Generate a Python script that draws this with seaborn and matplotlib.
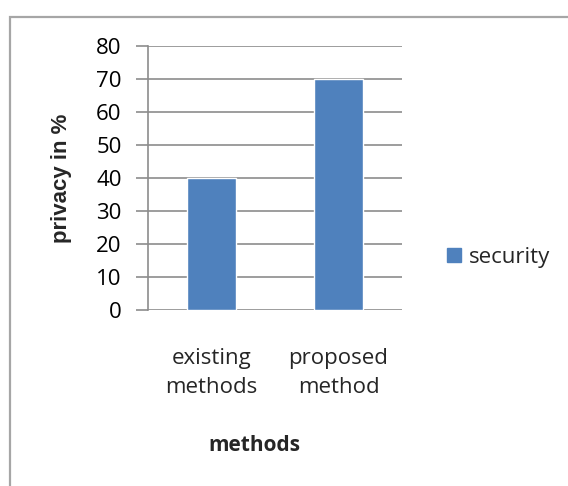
import matplotlib
matplotlib.use("Agg")
import matplotlib.pyplot as plt
from matplotlib.patches import Rectangle
import seaborn as sns
import pandas as pd

categories = ["existing\nmethods", "proposed\nmethod"]
security = [40, 70]
yticks = [0, 10, 20, 30, 40, 50, 60, 70, 80]
series_name = "security"

sns.set_style("white")
plt.rcParams["font.family"] = ["Open Sans", "DejaVu Sans"]

df = pd.DataFrame({"method": categories, "value": security, "series": series_name})

fig = plt.figure(figsize=(5.68, 4.86), dpi=100)
ax = fig.add_axes([148 / 568, 1 - 310 / 486, 254 / 568, 264 / 486])

bar_color = "#4F81BD"
sns.barplot(data=df, x="method", y="value", hue="series", palette=[bar_color],
            width=0.385, ax=ax, legend=False, saturation=1)

ax.set_xlim(-0.5, 1.5)
ax.set_ylim(0, 80)
ax.set_yticks(yticks)
ax.set_yticklabels([str(t) for t in yticks], fontsize=16)
ax.yaxis.grid(True, color="#8c8c8c", linewidth=1.2)
ax.set_axisbelow(True)
for side in ["top", "right", "bottom"]:
    ax.spines[side].set_visible(False)
ax.spines["left"].set_color("#8c8c8c")
ax.spines["left"].set_linewidth(1.2)
ax.tick_params(axis="y", which="major", left=True, length=9, width=1.2,
               color="#8c8c8c", pad=10, labelcolor="black")
ax.tick_params(axis="x", bottom=False, pad=24, labelsize=16)
for lbl in ax.get_xticklabels():
    lbl.set_linespacing(1.5)

ax.set_xlabel("methods", fontsize=15, fontweight="bold")
ax.xaxis.set_label_coords((254 - 148) / 254, -0.475)
ax.set_ylabel("privacy in %", fontsize=16, fontweight="bold",
              family=["Liberation Sans", "DejaVu Sans"])
ax.yaxis.set_label_coords(-0.30, 0.5)

# legend
ax.legend(handles=[Rectangle((0, 0), 1, 1, color=bar_color)], labels=[series_name],
          loc="center left", bbox_to_anchor=(1.1, 0.2), frameon=False, fontsize=16,
          handlelength=0.6, handleheight=0.6, handletextpad=0.35)

# outer chart border
fig.patches.append(Rectangle((10 / 568, -0.1), 1.2, 1 - 17 / 486 + 0.1,
                             transform=fig.transFigure, fill=False,
                             edgecolor="#a6a6a6", linewidth=1.6))

fig.savefig("out.png", dpi=100)
